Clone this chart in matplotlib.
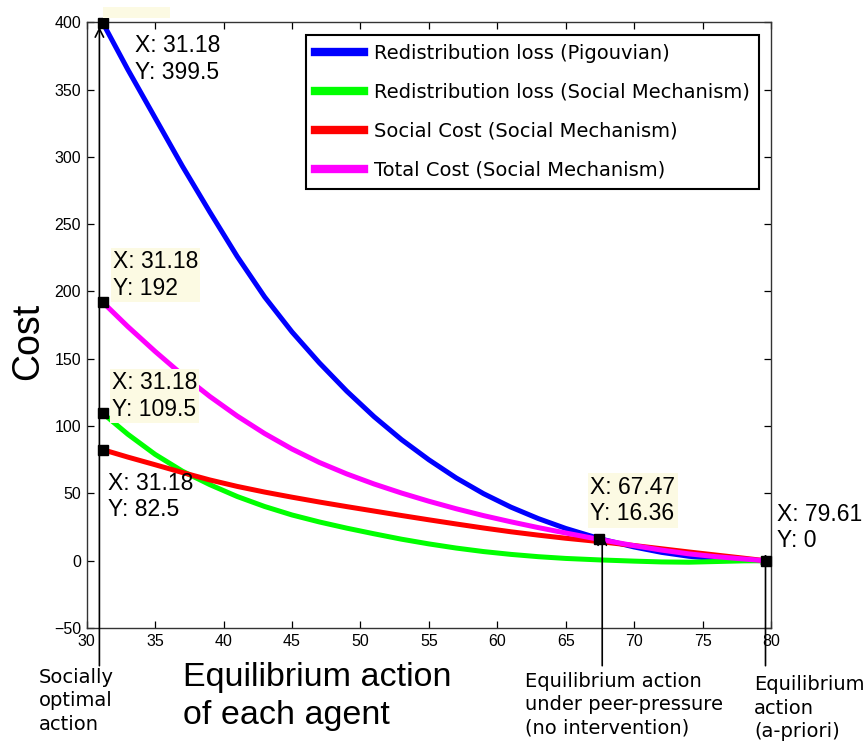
import numpy as np
import matplotlib
matplotlib.use("Agg")
import matplotlib.pyplot as plt
from matplotlib.patches import Rectangle

# data
x = [31.18, 33, 35, 37, 39, 41, 43, 45, 47, 49, 51, 53, 55, 57, 59, 61, 63, 65,
     67.47, 70, 72, 74, 76, 78, 79.61]
pigou_loss = [399.5, 365, 329, 293, 259, 226, 196, 170, 147, 126, 107, 90, 75, 61.5,
              49.8, 39.8, 31.3, 24, 16.4, 10.2, 6.2, 3.3, 1.4, 0.4, 0]
social_loss = [109.5, 94, 79, 66.5, 56.5, 47.7, 40.3, 34, 28.8, 24.2, 20, 16, 12.5,
               9.4, 6.8, 4.7, 3, 1.7, 0.6, -0.3, -0.9, -1.1, -0.6, -0.1, 0]
social_cost = [82.5, 77, 71.3, 65.5, 60, 55.2, 51, 47.2, 43.6, 40.2, 36.9, 33.6,
               30.4, 27.3, 24.3, 21.5, 19, 16.7, 14.2, 11.3, 8.9, 6.5, 4.2, 1.9, 0]
total_cost = [192, 174, 155.5, 138, 122, 107.5, 94.5, 83, 73, 64.5, 57, 50.3, 44.2,
              38.6, 33.5, 28.9, 24.6, 20.6, 15.8, 11.2, 7.9, 5.1, 3, 1.3, 0]

labels = ["Redistribution loss (Pigouvian)",
          "Redistribution loss (Social Mechanism)",
          "Social Cost (Social Mechanism)",
          "Total Cost (Social Mechanism)"]
colors = ["#0000ff", "#00ff00", "#ff0000", "#ff00ff"]

# data tips: x, y, text offset (pixels), yellow background?
tip_x = [31.18, 31.18, 31.18, 31.18, 67.47, 79.61]
tip_y = [399.5, 192, 109.5, 82.5, 16.36, 0]
tip_off = [(32, -11), (10, 52), (9, 42), (5, -22), (-9, 63), (11, 58)]
tip_bg = [False, True, True, False, True, False]

helv = ["Liberation Sans", "DejaVu Sans"]

fig = plt.figure(figsize=(8.65, 7.42), dpi=100)
ax = fig.add_axes([0.1002, 0.1536, 0.7911, 0.8164])

for ys, c, lab in zip([pigou_loss, social_loss, social_cost, total_cost], colors, labels):
    ax.plot(x, ys, color=c, lw=3.6, label=lab, solid_joinstyle="round")

ax.set_xlim(30, 80)
ax.set_ylim(-50, 400)
ax.set_xticks(np.arange(30, 81, 5))
ax.set_yticks(np.arange(-50, 401, 50))
ax.tick_params(direction="in", length=5, width=0.9, top=True, right=True,
               labelsize=11.5, pad=4)
for t in ax.get_xticklabels() + ax.get_yticklabels():
    t.set_family(helv)
for s in ax.spines.values():
    s.set_linewidth(1.0)
    s.set_color("#333333")

leg = ax.legend(loc="upper right", bbox_to_anchor=(0.9825, 0.979), borderaxespad=0,
                handlelength=2.5, handletextpad=0.55, labelspacing=1.03,
                borderpad=0.45, fancybox=False, framealpha=1, edgecolor="black",
                prop={"family": "DejaVu Sans", "size": 14})
leg.get_frame().set_linewidth(1.5)
for h in leg.get_lines():
    h.set_linewidth(6)

# data tip markers and texts
ax.plot(tip_x, tip_y, "s", color="black", ms=7, zorder=6, clip_on=False)
for tx, ty, off, bg in zip(tip_x, tip_y, tip_off, tip_bg):
    box = dict(boxstyle="square,pad=0.1", fc="#fcfae3", ec="none") if bg else None
    ax.annotate("X: %g\nY: %g" % (tx, ty), xy=(tx, ty), xytext=off,
                textcoords="offset pixels", ha="left", va="top", fontsize=16.5,
                family=helv, bbox=box, zorder=7, annotation_clip=False)

# small leftover tip background at the top
fig.patches.append(Rectangle((103 / 865, 1 - 18 / 742), 67 / 865, 11 / 742,
                             transform=fig.transFigure, fc="#fcfae3", ec="none"))

# arrows from the notes below the axis
arrow_x = [30.93, 67.67, 79.6]
arrow_top = [396.5, 19, 5]
for axx, at in zip(arrow_x, arrow_top):
    ax.annotate("", xy=(axx, at), xytext=(axx, -78),
                arrowprops=dict(arrowstyle="->,head_length=0.6,head_width=0.3",
                                lw=1.2, color="black", shrinkA=0, shrinkB=0),
                annotation_clip=False, zorder=8)

note_kw = dict(ha="left", va="top", fontsize=14, family="DejaVu Sans", linespacing=1.3)
fig.text(39 / 865, 1 - 668 / 742, "Socially\noptimal\naction", **note_kw)
fig.text(525 / 865, 1 - 672 / 742, "Equilibrium action\nunder peer-pressure\n(no intervention)",
         **note_kw)
fig.text(754 / 865, 1 - 675 / 742, "Equilibrium\naction\n(a-priori)", **note_kw)

fig.text(183 / 865, 1 - 662 / 742, "Equilibrium action\nof each agent", ha="left", va="top",
         fontsize=24.5, family=helv, linespacing=1.3)
fig.text(28 / 865, 1 - 341 / 742, "Cost", ha="center", va="center", rotation=90,
         fontsize=27, family=helv)

fig.savefig("out.png", dpi=100)
